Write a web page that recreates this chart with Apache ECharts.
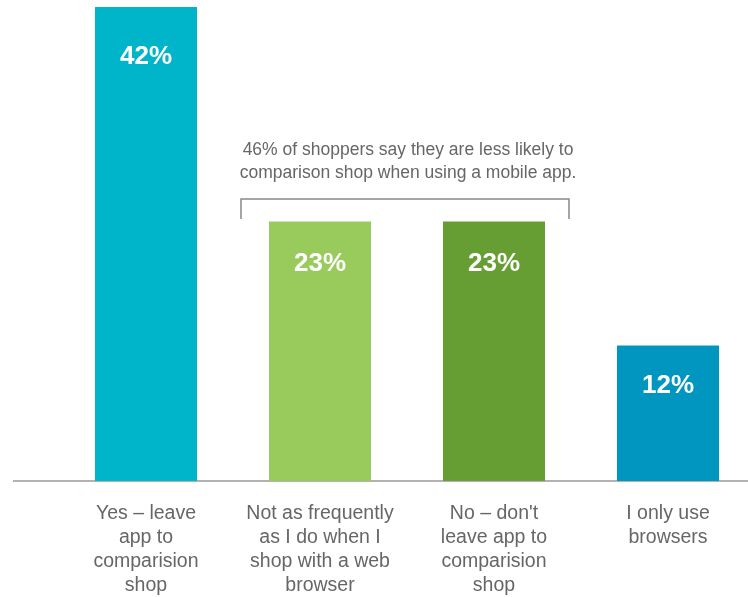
<!DOCTYPE html>
<html>
<head>
<meta charset="utf-8">
<script src="https://cdn.jsdelivr.net/npm/echarts@6/dist/echarts.min.js"></script>
<style>
  html, body { margin: 0; padding: 0; background: #fff; }
  #chart { width: 748px; height: 597px; }
</style>
</head>
<body>
<div id="chart"></div>
<script>
// answers to "do you leave the app to comparison shop?"
const categories = [
  'Yes – leave\napp to\ncomparision\nshop',
  'Not as frequently\nas I do when I\nshop with a web\nbrowser',
  "No – don't\nleave app to\ncomparision\nshop",
  'I only use\nbrowsers'
];
const shares = [42, 23, 23, 12];
const barColors = ['#00b4ca', '#98ca5c', '#679e33', '#0096c0'];
const labelGaps = [36, 28, 28, 26];
const note = '46% of shoppers say they are less likely to\ncomparison shop when using a mobile app.';

const chart = echarts.init(document.getElementById('chart'));

const option = {
  animation: false,
  grid: { left: 59, width: 696, top: 7, height: 474, outerBoundsMode: 'none', containLabel: false },
  xAxis: {
    type: 'category',
    data: categories,
    axisLine: { show: false },
    axisTick: { show: false },
    axisLabel: {
      margin: 21,
      color: '#666',
      fontSize: 19.5,
      lineHeight: 24,
      fontFamily: 'Liberation Sans, Arial, sans-serif',
      interval: 0
    }
  },
  yAxis: {
    type: 'value',
    min: 0,
    max: 42,
    show: false,
    splitLine: { show: false }
  },
  series: [{
    type: 'bar',
    barWidth: 102,
    data: shares.map((v, i) => ({
      value: v,
      itemStyle: { color: barColors[i] },
      label: { distance: labelGaps[i] }
    })),
    label: {
      show: true,
      position: 'insideTop',
      formatter: '{c}%',
      color: '#fff',
      fontWeight: 'bold',
      fontSize: 26,
      lineHeight: 28,
      fontFamily: 'Liberation Sans, Arial, sans-serif'
    }
  }],
  graphic: [
    {
      type: 'line',
      shape: { x1: 13, y1: 481, x2: 748, y2: 481 },
      style: { stroke: '#999', lineWidth: 1.5 }
    },
    {
      type: 'polyline',
      shape: { points: [[241, 219], [241, 199], [569, 199], [569, 219]] },
      style: { stroke: '#888', lineWidth: 1.5, fill: null }
    },
    {
      type: 'text',
      x: 408,
      y: 162,
      style: {
        text: note,
        fill: '#666',
        fontSize: 17.5,
        lineHeight: 23,
        align: 'center',
        verticalAlign: 'middle',
        fontFamily: 'Liberation Sans, Arial, sans-serif'
      }
    }
  ]
};

chart.setOption(option);
</script>
</body>
</html>
